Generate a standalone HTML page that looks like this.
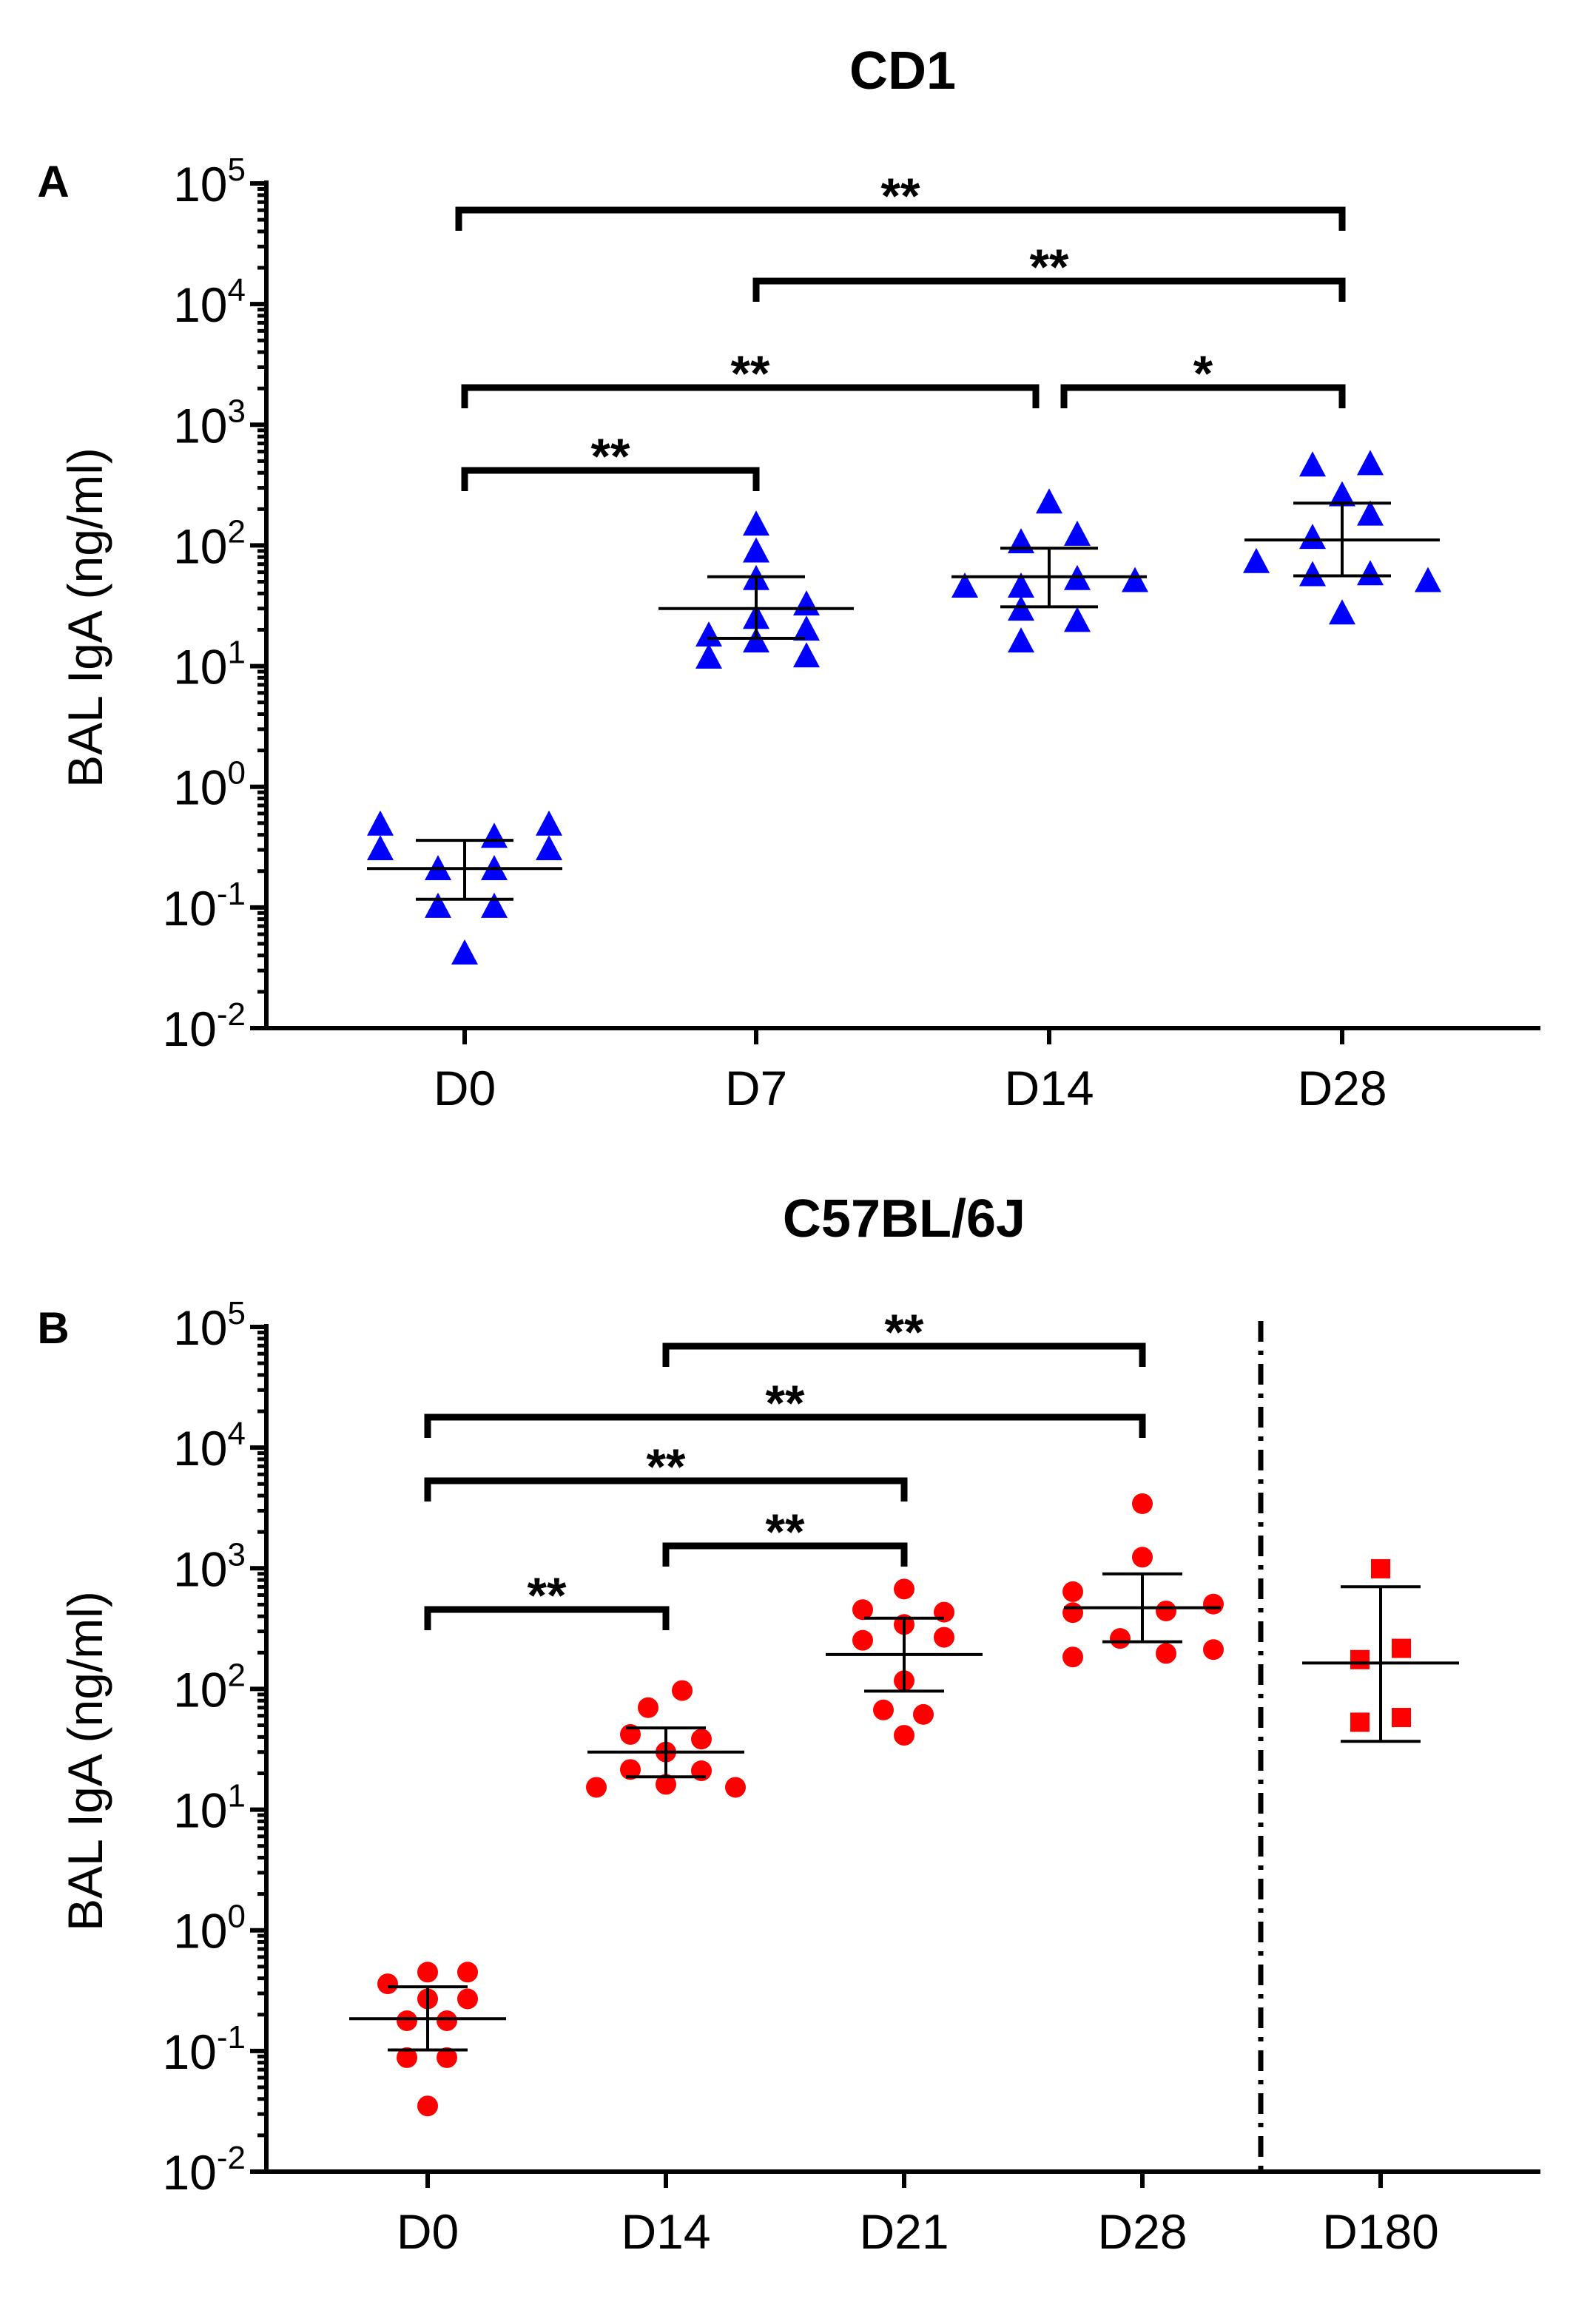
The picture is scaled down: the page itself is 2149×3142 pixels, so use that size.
<!DOCTYPE html>
<html><head><meta charset="utf-8"><style>
html,body{margin:0;padding:0;background:#fff}
svg{display:block}
text{font-family:"Liberation Sans",Arial,sans-serif}
</style></head><body>
<svg id="fig" width="2149" height="3142" viewBox="0 0 1074.5 1571" xmlns="http://www.w3.org/2000/svg">
<text x="610" y="60" font-size="36" font-weight="bold" text-anchor="middle">CD1</text>
<text x="36" y="133" font-size="30" font-weight="bold" text-anchor="middle">A</text>
<text x="611" y="836" font-size="36" font-weight="bold" text-anchor="middle">C57BL/6J</text>
<text x="36" y="908" font-size="30" font-weight="bold" text-anchor="middle">B</text>
<g id="pa"></g>
<g id="pb"></g>
</svg>
<script>
// ---- Panel A data (CD1) ----
const catsA = ["D0","D7","D14","D28"];
const valsA = [
 [0.48,0.48,0.30,0.30,0.38,0.205,0.205,0.10,0.10,0.041],
 [147,88,52,32,19.8,11.9,17.7,11.6,24.8,15.8],
 [224,105,121,45,52,50,45,29,23.4,15.8],
 [454,466,257,178,114,72,56,57,50,27]
];
const jitA = [
 [-57,57,-57,57,20,-18,20,-18,20,0],
 [0,0,0,34,34,34,-32,-32,0,0],
 [0,-19,19,-19,19,58,-57,-19,19,-19],
 [-20,19,0,19,-20,-58,-20,19,58,0]
];
const meanA = [0.21,30,55,111];
const sdHiA = [0.36,55,95,224];
const sdLoA = [0.117,17,31,56];
const sigA = [[0,3,"**"],[1,3,"**"],[0,2,"**"],[2,3,"*"],[0,1,"**"]];
const sigYA = [142,190,262,262,318];

// ---- Panel B data (C57BL/6J) ----
const catsB = ["D0","D14","D21","D28","D180"];
const valsB = [
 [0.36,0.45,0.45,0.27,0.27,0.178,0.178,0.088,0.088,0.035],
 [97,70,42,38.4,30,21.5,21,16.2,15.3,15.3],
 [673,454,433,342,253,268,117,67,61.5,41.3],
 [3430,1236,640,429,443,505,262,197,212,184],
 [991,217,175,53,58]
];
const jitB = [
 [-27,0,27,0,27,-14,13,-14,13,0],
 [11,-12,-24,24,0,-24,24,0,-47,47],
 [0,-28,27,0,-28,27,0,-14,13,0],
 [0,0,-47,-47,16,48,-15,16,48,-47],
 [0,14,-14,-14,14]
];
const meanB = [0.185,30,193,471,164];
const sdHiB = [0.34,47.5,386,898,703];
const sdLoB = [0.102,18.7,96,246,36.8];
const sigB = [[1,3,"**"],[0,3,"**"],[0,2,"**"],[1,2,"**"],[0,1,"**"]];
const sigYB = [910,958,1001,1045,1088];

const NS="http://www.w3.org/2000/svg";
function mk(parent,tag,attrs){const e=document.createElementNS(NS,tag);for(const k in attrs)e.setAttribute(k,attrs[k]);parent.appendChild(e);return e;}

function panel(g, cfg){
  const {cats,vals,jit,mean,hi,lo,sig,sigY,top,bottom,xs,shapes,color,prefix,mw,cw,trimA,trimB} = cfg;
  const left=180, right=1041;
  const dec=(bottom-top)/7;
  const y = v => bottom - (Math.log10(v)+2)*dec;
  const ya=mk(g,'line',{x1:left,y1:top-2,x2:left,y2:bottom+1.5,stroke:'#000','stroke-width':3});
  
  
  const xa=mk(g,'line',{x1:left-1.5,y1:bottom,x2:right,y2:bottom,stroke:'#000','stroke-width':3});
  
  
  for(let p=-2;p<=5;p++){
    const yy=bottom-(p+2)*dec;
    const t=mk(g,'line',{x1:left-11,y1:yy,x2:left,y2:yy,stroke:'#000','stroke-width':3});
    
    
    const lab=mk(g,'text',{x:left-14,y:yy+12,'font-size':33,'text-anchor':'end'});
    
    
    lab.textContent='10';
    const s=mk(lab,'tspan',{dy:-14,'font-size':22});
    s.textContent=String(p);
    if(p<5){for(let m=2;m<=9;m++){const ym=yy-Math.log10(m)*dec;
      const mt=mk(g,'line',{x1:left-6,y1:ym,x2:left,y2:ym,stroke:'#000','stroke-width':2.5});
      
      }}
  }
  const yl=mk(g,'text',{x:0,y:0,'font-size':33,'text-anchor':'middle',transform:`translate(69,${(top+bottom)/2+8}) rotate(-90)`});
  
  
  yl.textContent='BAL IgA (ng/ml)';
  cats.forEach((c,i)=>{
    const t=mk(g,'line',{x1:xs[i],y1:bottom,x2:xs[i],y2:bottom+11,stroke:'#000','stroke-width':3});
    
    
    const l=mk(g,'text',{x:xs[i],y:bottom+52,'font-size':33,'text-anchor':'middle'});
    
    
    l.textContent=c;
    vals[i].forEach((v,j)=>{
      const cx=xs[i]+jit[i][j], cy=y(v), sh=shapes[i];
      let e;
      if(sh==='tri') e=mk(g,'polygon',{points:`${cx},${cy-10} ${cx-9},${cy+7} ${cx+9},${cy+7}`,fill:color});
      else if(sh==='sq') e=mk(g,'rect',{x:cx-6.5,y:cy-6.5,width:13,height:13,fill:color});
      else e=mk(g,'circle',{cx:cx,cy:cy,r:7,fill:color});
      
      
    });
    const eg=mk(g,'g',{stroke:'#000','stroke-width':2});
    
    
    mk(eg,'line',{x1:xs[i]-mw,y1:y(mean[i]),x2:xs[i]+mw,y2:y(mean[i])});
    mk(eg,'line',{x1:xs[i],y1:y(hi[i]),x2:xs[i],y2:y(lo[i])});
    mk(eg,'line',{x1:xs[i]-cw,y1:y(hi[i]),x2:xs[i]+cw,y2:y(hi[i])});
    mk(eg,'line',{x1:xs[i]-cw,y1:y(lo[i]),x2:xs[i]+cw,y2:y(lo[i])});
  });
  sig.forEach((s,k)=>{
    const a=xs[s[0]]+(trimA[k]||0), b=xs[s[1]]+(trimB[k]||0), yy=sigY[k];
    const bg=mk(g,'path',{d:`M${a},${yy+14} V${yy} H${b} V${yy+14}`,fill:'none',stroke:'#000','stroke-width':4.5});
    
    
    const t=mk(g,'text',{x:(a+b)/2,y:yy+2,'font-size':34,'font-weight':'bold','text-anchor':'middle'});
    
    
    t.textContent=s[2];
  });
}
panel(document.getElementById('pa'),{cats:catsA,vals:valsA,jit:jitA,mean:meanA,hi:sdHiA,lo:sdLoA,
 sig:sigA,sigY:sigYA,top:124,bottom:695,xs:[314,511,709,907],shapes:['tri','tri','tri','tri'],color:'#0000ff',prefix:'a',
 mw:66,cw:33,trimA:[-4,0,0,10,0],trimB:[0,0,-9,0,0]});
panel(document.getElementById('pb'),{cats:catsB,vals:valsB,jit:jitB,mean:meanB,hi:sdHiB,lo:sdLoB,
 sig:sigB,sigY:sigYB,top:897,bottom:1468,xs:[289,450,611,772,933],shapes:['c','c','c','c','sq'],color:'#ff0000',prefix:'b',
 mw:53,cw:27,trimA:[0,0,0,0,0],trimB:[0,0,0,0,0]});
const dv=mk(document.getElementById('pb'),'line',{x1:852,y1:893,x2:852,y2:1468,stroke:'#000','stroke-width':3.5,'stroke-dasharray':'14 6 3 6'});


</script>
</body></html>
